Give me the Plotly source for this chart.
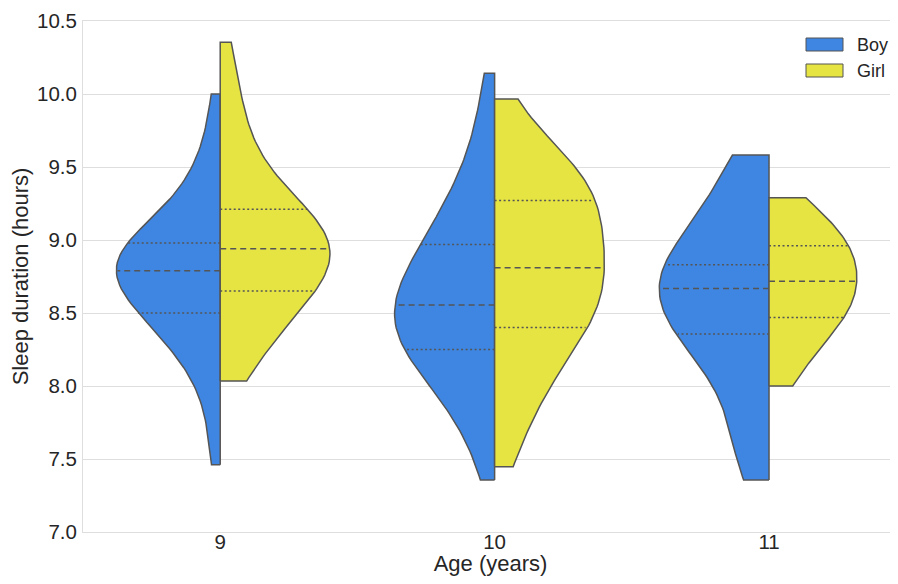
import numpy as np
import plotly.graph_objects as go

# ---- data (sleep duration in hours, per age and sex) ----
ages = ["9", "10", "11"]
sexes = ["Boy", "Girl"]

boy_9 = [7.46, 7.78, 8.03, 8.17, 8.25, 8.33, 8.38, 8.43, 8.47, 8.53, 8.565, 8.60,
         8.635, 8.67, 8.70, 8.73, 8.76, 8.79, 8.815, 8.84, 8.865, 8.89, 8.91, 8.93,
         8.95, 8.97, 8.99, 9.065, 9.12, 9.19, 9.265, 9.37, 9.48, 9.67, 10.0]
girl_9 = [8.034, 8.14, 8.24, 8.33, 8.39, 8.45, 8.51, 8.56, 8.61, 8.65, 8.68, 8.71,
          8.745, 8.78, 8.81, 8.845, 8.875, 8.91, 8.94, 8.965, 8.99, 9.02, 9.05, 9.08,
          9.11, 9.145, 9.18, 9.21, 9.27, 9.34, 9.41, 9.49, 9.60, 9.74, 9.90, 10.07, 10.354]
boy_10 = [7.356, 7.60, 7.75, 7.845, 7.92, 8.00, 8.055, 8.105, 8.155, 8.20, 8.25, 8.28,
          8.31, 8.34, 8.37, 8.40, 8.435, 8.465, 8.495, 8.525, 8.555, 8.59, 8.63, 8.665,
          8.705, 8.745, 8.79, 8.83, 8.875, 8.92, 8.97, 9.025, 9.08, 9.135, 9.21, 9.29,
          9.38, 9.49, 9.655, 9.845, 10.142]
girl_10 = [7.447, 7.63, 7.77, 7.88, 7.98, 8.06, 8.12, 8.19, 8.26, 8.30, 8.35, 8.40,
           8.44, 8.48, 8.52, 8.555, 8.59, 8.63, 8.665, 8.70, 8.74, 8.775, 8.81, 8.85,
           8.89, 8.93, 8.97, 9.01, 9.055, 9.10, 9.14, 9.18, 9.225, 9.27, 9.30, 9.33,
           9.365, 9.40, 9.44, 9.48, 9.53, 9.59, 9.65, 9.72, 9.966]
boy_11 = [7.356, 7.50, 7.68, 7.86, 8.04, 8.20, 8.356, 8.37, 8.39, 8.42, 8.46, 8.52,
          8.667, 8.78, 8.80, 8.81, 8.82, 8.825, 8.83, 8.98, 9.12, 9.26, 9.39, 9.49, 9.582]
girl_11 = [8.0, 8.16, 8.27, 8.35, 8.44, 8.48, 8.53, 8.58, 8.63, 8.69, 8.745, 8.79,
           8.84, 8.89, 8.95, 8.99, 9.05, 9.12, 9.20, 9.29]

groups = {
    ("9", "Boy"): boy_9, ("9", "Girl"): girl_9,
    ("10", "Boy"): boy_10, ("10", "Girl"): girl_10,
    ("11", "Boy"): boy_11, ("11", "Girl"): girl_11,
}

y_ticks = [7.0, 7.5, 8.0, 8.5, 9.0, 9.5, 10.0, 10.5]

# ---- style ----
colors = {"Boy": "#3E86E2", "Girl": "#E6E442"}
edge = "#555555"
text_color = "#262626"
grid_color = "#DEDEDE"
font_family = "Liberation Sans, Arial, sans-serif"
half_width = 0.4
lw = 1.5


def kde(data, grid):
    data = np.asarray(data, dtype=float)
    n = len(data)
    h = data.std(ddof=1) * n ** (-1 / 5)  # Scott's rule (scipy convention)
    z = (grid[:, None] - data[None, :]) / h
    return np.exp(-0.5 * z ** 2).sum(axis=1) / (n * h * np.sqrt(2 * np.pi))


fig = go.Figure()

for i, age in enumerate(ages):
    sets = [np.asarray(groups[(age, s)], dtype=float) for s in sexes]
    counts = [len(s) for s in sets]
    for j, sex in enumerate(sexes):
        data = sets[j]
        grid = np.linspace(data.min(), data.max(), 100)
        d = kde(data, grid)
        d = d / d.max() * counts[j] / max(counts)  # scale by count within age level
        w = half_width * d
        sign = -1 if sex == "Boy" else 1
        xs = np.concatenate([[i], i + sign * w, [i, i]])
        ys = np.concatenate([[grid[0]], grid, [grid[-1], grid[0]]])
        fig.add_trace(go.Scatter(
            x=xs, y=ys, mode="lines", fill="toself", fillcolor=colors[sex],
            line=dict(color=edge, width=lw), hoverinfo="skip", showlegend=False,
            name=sex,
        ))
        q25, q50, q75 = np.percentile(data, [25, 50, 75])
        for q, dash in ((q25, "2px,2.5px"), (q50, "6px,4px"), (q75, "2px,2.5px")):
            k = int(np.argmin(np.abs(grid - q)))
            qw = half_width * d[k] * 0.99
            fig.add_trace(go.Scatter(
                x=[i, i + sign * qw], y=[q, q], mode="lines",
                line=dict(color=edge, width=lw, dash=dash),
                hoverinfo="skip", showlegend=False,
            ))

# ---- geometry (page body has an 8px offset) ----
OFF = 8
W, H = 898 - OFF, 584 - 2 * OFF
plot_left, plot_top, plot_right, plot_bottom = 83, 21, 898, 532
ml, mt = plot_left - OFF, plot_top - OFF
mr = (898 - OFF) - (plot_right - OFF)
mb = H - (plot_bottom - OFF)
pw, ph = plot_right - plot_left, plot_bottom - plot_top


def px_to_paper(px, py):
    return (px - plot_left) / pw, 1 - (py - plot_top) / ph


# ---- legend (patches + labels, matplotlib style) ----
shapes = []
annotations = []
for k, sex in enumerate(sexes):
    top = 38 + 26 * k
    x0, y0 = px_to_paper(806, top)
    x1, y1 = px_to_paper(843, top + 13)
    shapes.append(dict(type="rect", xref="paper", yref="paper", x0=x0, x1=x1,
                       y0=y1, y1=y0, fillcolor=colors[sex],
                       line=dict(color=edge, width=1)))
    tx, ty = px_to_paper(855, top + 6.5)
    annotations.append(dict(xref="paper", yref="paper", x=tx, y=ty, text=sex,
                            showarrow=False, xanchor="left", yanchor="middle",
                            font=dict(size=18, color=text_color, family=font_family)))

fig.update_layout(
    width=W, height=H,
    margin=dict(l=ml, r=mr, t=mt, b=mb, autoexpand=False),
    paper_bgcolor="white", plot_bgcolor="white",
    font=dict(family=font_family, color=text_color),
    showlegend=False,
    shapes=shapes, annotations=annotations,
    xaxis=dict(
        range=[-0.5, 2.47], tickmode="array", tickvals=list(range(len(ages))),
        ticktext=ages, showgrid=False, zeroline=False, showline=True,
        linecolor=grid_color, linewidth=1, mirror=True, ticks="",
        ticklabelstandoff=-9,
        tickfont=dict(size=20.5, color=text_color),
        title=dict(text="Age (years)", font=dict(size=22, color=text_color), standoff=5),
    ),
    yaxis=dict(
        range=[7.0, 10.5], tickmode="array", tickvals=y_ticks,
        ticktext=[f"{v:.1f}" for v in y_ticks], showgrid=True, gridcolor=grid_color,
        gridwidth=1, zeroline=False, showline=True, linecolor=grid_color, linewidth=1,
        ticks="", ticklabelstandoff=1, tickfont=dict(size=20.5, color=text_color),
        title=dict(text="Sleep duration (hours)", font=dict(size=22, color=text_color),
                   standoff=5),
    ),
)

fig.write_html("out.html")
